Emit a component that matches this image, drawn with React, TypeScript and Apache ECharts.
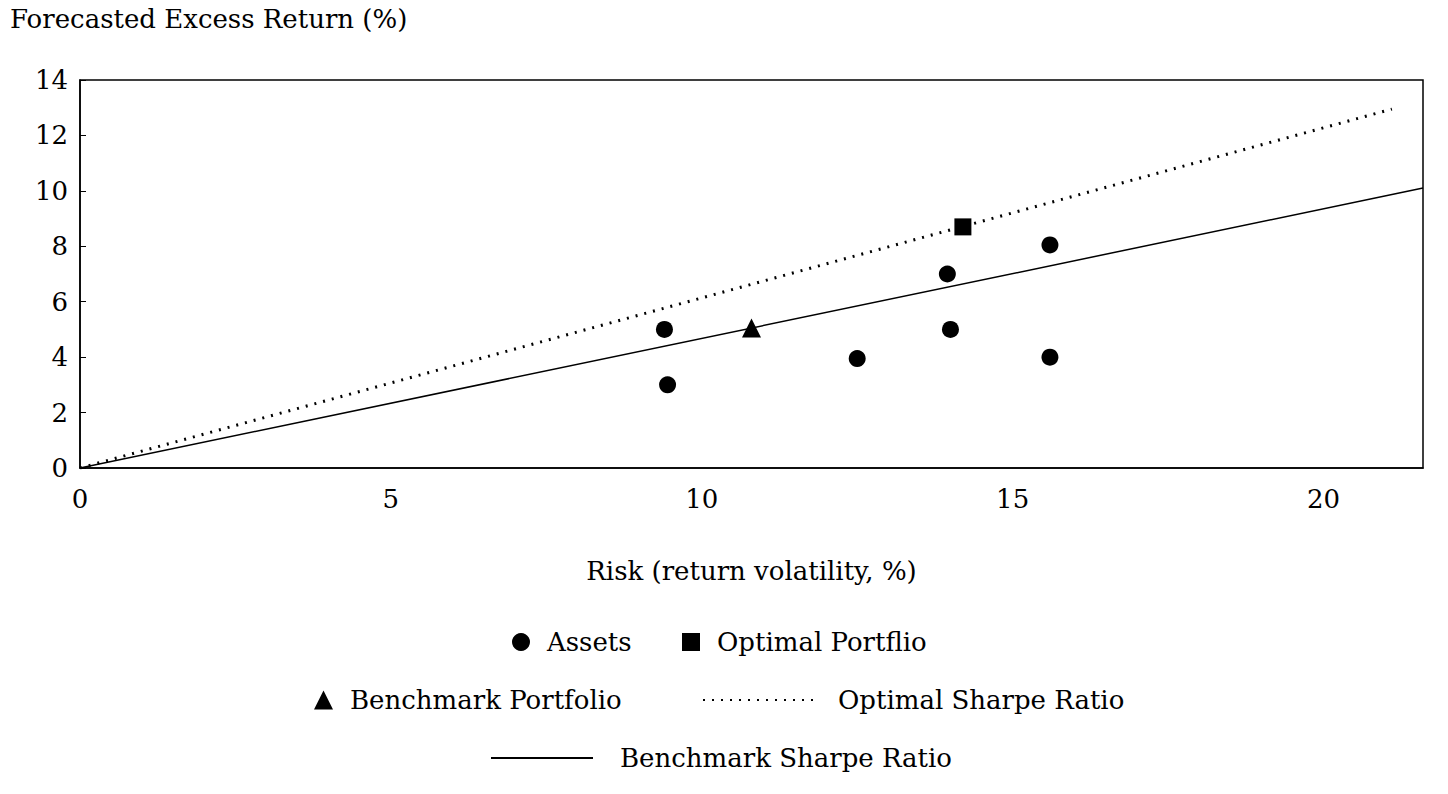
import React, { useEffect, useRef } from "react";
import * as echarts from "echarts";

const assets: number[][] = [[9.4, 5], [9.45, 3], [12.5, 3.95], [13.95, 7], [14.0, 5], [15.6, 8.05], [15.6, 4]];
const optimalPortfolio: number[][] = [[14.2, 8.7]];
const benchmarkPortfolio: number[][] = [[10.8, 5.05]];
const optimalSharpe: number[][] = [[0, 0], [21.1, 12.95]];
const benchmarkSharpe: number[][] = [[0, 0], [21.6, 10.1]];

const FONT = "'DejaVu Serif', 'Liberation Serif', serif";

export default function App() {
  const ref = useRef<HTMLDivElement>(null);
  useEffect(() => {
    document.body.style.margin = "0";
    const chart = echarts.init(ref.current!, undefined, { renderer: "svg" });
    const ts = { color: "#000", fontFamily: FONT, fontSize: 26 };
    const leg = (name: string, left: number, top: number, iw: number, ih: number, pad: number, hideSym = false) => ({
      data: [name], left, top, itemWidth: iw, itemHeight: ih, selectedMode: false,
      itemStyle: hideSym ? { opacity: 0 } : undefined,
      textStyle: { ...ts, padding: [0, 0, 0, pad] },
    });
    chart.setOption({
      animation: false,
      textStyle: { fontFamily: FONT },
      grid: { left: 80, right: 25, top: 80, bottom: 326, show: true, borderColor: "#000", borderWidth: 1.5 },
      xAxis: {
        type: "value", min: 0, max: 21.6, interval: 5,
        name: "Risk (return volatility, %)", nameLocation: "middle", nameGap: 90,
        nameTextStyle: ts,
        axisLine: { lineStyle: { color: "#000", width: 1.5 } },
        axisTick: { show: false },
        axisLabel: { ...ts, margin: 18, showMaxLabel: false },
        splitLine: { show: false },
      },
      yAxis: {
        type: "value", min: 0, max: 14, interval: 2,
        axisLine: { show: true, lineStyle: { color: "#000", width: 1.5 } },
        axisTick: { show: true, inside: true, length: 6, lineStyle: { color: "#000" } },
        axisLabel: { ...ts, margin: 12 },
        splitLine: { show: false },
      },
      graphic: [{ type: "text", left: 10, top: 6, style: { text: "Forecasted Excess Return (%)", ...ts, fill: "#000" } }],
      legend: [
        leg("Assets", 507, 624, 18, 18, 12),
        leg("Optimal Portflio", 677, 624, 18, 18, 12),
        leg("Benchmark Portfolio", 309, 682, 19, 19, 12),
        leg("Optimal Sharpe Ratio", 697, 682, 110, 20, 20, true),
        leg("Benchmark Sharpe Ratio", 485, 740, 102, 20, 22, true),
      ],
      series: [
        { name: "Assets", type: "scatter", symbol: "circle", symbolSize: 17, data: assets, itemStyle: { color: "#000", opacity: 1 } },
        { name: "Optimal Portflio", type: "scatter", symbol: "rect", symbolSize: 17, data: optimalPortfolio, itemStyle: { color: "#000", opacity: 1 }, z: 5 },
        { name: "Benchmark Portfolio", type: "scatter", symbol: "triangle", symbolSize: 19, data: benchmarkPortfolio, itemStyle: { color: "#000", opacity: 1 }, z: 5 },
        { name: "Optimal Sharpe Ratio", type: "line", symbol: "none", data: optimalSharpe, itemStyle: { color: "#000" }, lineStyle: { color: "#000", width: 3, type: [2, 7] } },
        { name: "Benchmark Sharpe Ratio", type: "line", symbol: "none", data: benchmarkSharpe, itemStyle: { color: "#000" }, lineStyle: { color: "#000", width: 1.5 } },
      ],
    });
    return () => chart.dispose();
  }, []);
  return <div ref={ref} style={{ width: 1448, height: 794 }} />;
}
